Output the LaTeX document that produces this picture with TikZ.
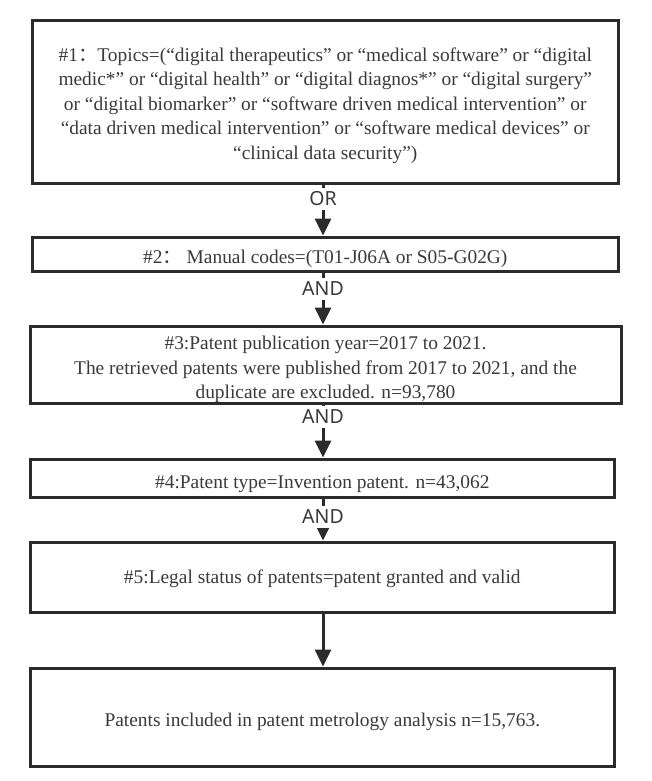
\documentclass[tikz,border=0pt]{standalone}
\usepackage{fontspec}
\setmainfont{Liberation Serif}
\newfontfamily\lblfont{Noto Sans}
\newfontfamily\cjk{Noto Sans CJK SC}
\usetikzlibrary{arrows.meta}
\definecolor{ink}{HTML}{2B2B2B}
\definecolor{txt}{HTML}{3A3A3A}
\begin{document}
\begin{tikzpicture}[x=1pt,y=-1pt,
  box/.style={draw=ink, line width=3pt, fill=white, inner sep=0pt},
  boxtext/.style={inner sep=0pt, align=center, text=txt,
    font=\fontsize{19.4}{24.5}\selectfont},
  conn/.style={draw=ink, line width=3pt, -{Triangle[width=16pt,length=17pt]}},
  lbl/.style={fill=white, text=txt, inner sep=4pt, font=\lblfont\fontsize{19.5}{22}\selectfont}]
\useasboundingbox[fill=white] (0,0) rectangle (651,781);
\coordinate (ax) at (323,0);
\node[box, minimum width=585.5pt, minimum height=162pt] (b1) at (325.25,102) {};
\node[boxtext, yshift=-3.5pt] (t1) at (b1.center)
  {\#1{\cjk ：}Topics=(“digital therapeutics” or “medical software” or “digital\\
   medic*” or “digital health” or “digital diagnos*” or “digital surgery”\\
   or “digital biomarker” or “software driven medical intervention” or\\
   “data driven medical intervention” or “software medical devices” or\\
   “clinical data security”)};
\node[box, minimum width=585.5pt, minimum height=34pt] (b2) at (325.25,254) {};
\node[boxtext, yshift=-5pt] (t2) at (b2.center)
  {\#2{\cjk ：} Manual codes=(T01-J06A or S05-G02G)};
\node[box, minimum width=591pt, minimum height=77pt] (b3) at (325.5,364.5) {};
\node[boxtext, yshift=-5pt] (t3) at (b3.center)
  {\#3:Patent publication year=2017 to 2021.\\
   The retrieved patents were published from 2017 to 2021, and the\\
   duplicate are excluded. n=93,780};
\node[box, minimum width=584.6pt, minimum height=38pt] (b4) at (322.3,478) {};
\node[boxtext, yshift=-6pt] (t4) at (b4.center)
  {\#4:Patent type=Invention patent. n=43,062};
\node[box, minimum width=584.6pt, minimum height=70pt] (b5) at (322.3,577) {};
\node[boxtext, yshift=-2pt] (t5) at (b5.center)
  {\#5:Legal status of patents=patent granted and valid};
\node[box, minimum width=584.6pt, minimum height=98pt] (b6) at (322.3,717) {};
\node[boxtext, yshift=-5pt] (t6) at (b6.center)
  {Patents included in patent metrology analysis n=15,763.};
\draw[conn] (b1.south -| ax) -- (b2.north -| ax) node[lbl, pos=0.28] {OR};
\draw[conn] (b2.south -| ax) -- (b3.north -| ax) node[lbl, pos=0.31] {AND};
\draw[conn] (b3.south -| ax) -- (b4.north -| ax) node[lbl, pos=0.23] {AND};
\draw[conn] (b4.south -| ax) -- (b5.north -| ax) node[lbl, pos=0.44] {AND};
\draw[conn] (b5.south -| ax) -- (b6.north -| ax);
\end{tikzpicture}
\end{document}
